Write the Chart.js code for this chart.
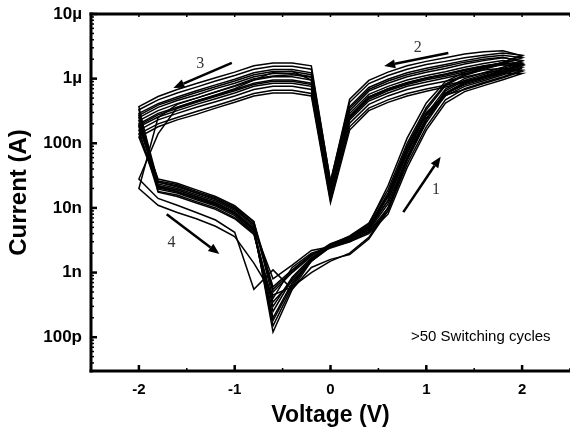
<!DOCTYPE html>
<html>
<head>
<meta charset="utf-8">
<script src="https://cdn.jsdelivr.net/npm/chart.js@4.4.1/dist/chart.umd.min.js"></script>
<style>
  html, body { margin: 0; padding: 0; background: #fff; }
  #wrap { width: 570px; height: 435px; }
</style>
</head>
<body>
<div id="wrap"><canvas id="ivChart"></canvas></div>
<script>
// one sweep: 0 -> 2 -> 0 -> -2 -> 0 V, 0.2 V steps
const voltage = [
    0, 0.2, 0.4, 0.6, 0.8, 1.0, 1.2, 1.4, 1.6, 1.8, 2.0,
    1.8, 1.6, 1.4, 1.2, 1.0, 0.8, 0.6, 0.4, 0.2, 0,
    -0.2, -0.4, -0.6, -0.8, -1.0, -1.2, -1.4, -1.6, -1.8, -2.0,
    -1.8, -1.6, -1.4, -1.2, -1.0, -0.8, -0.6, -0.4, -0.2, 0
];

// current per cycle, in nA (same order as voltage)
const cycle01 = [2.8, 3.6, 5.6, 22, 120, 420, 900, 1250, 1500, 1800, 2300,
    2500, 2300, 2100, 1850, 1650, 1400, 1120, 840, 430, 26,
    1400, 1550, 1550, 1400, 1120, 920, 740, 600, 470, 330,
    25, 21, 17, 13.5, 9.6, 5.5, 0.5, 1.0, 1.8, 2.8];
const cycle02 = [2.6, 3.4, 5.2, 16, 90, 330, 780, 1120, 1380, 1700, 2100,
    2300, 2150, 1900, 1650, 1450, 1230, 980, 730, 370, 23,
    1230, 1380, 1380, 1230, 980, 800, 650, 520, 410, 290,
    22, 19, 15, 12, 8.6, 4.7, 0.3, 0.85, 1.7, 2.6];
const cycle03 = [2.5, 3.2, 4.7, 13, 72, 280, 690, 1000, 1230, 1500, 1900,
    2100, 1900, 1680, 1440, 1260, 1070, 850, 640, 320, 21,
    1070, 1200, 1200, 1070, 850, 700, 560, 460, 360, 250,
    19.5, 17, 13.4, 10.7, 7.6, 4.2, 0.2, 0.7, 1.5, 2.5];
const cycle04 = [2.4, 3.0, 4.3, 10, 55, 210, 560, 880, 1100, 1350, 1700,
    1900, 1720, 1500, 1280, 1120, 950, 760, 570, 290, 20,
    950, 1070, 1070, 950, 760, 620, 500, 410, 320, 225,
    26, 23, 18, 14.4, 10.3, 6.0, 0.6, 1.1, 1.9, 2.4];
const cycle05 = [2.7, 3.4, 5.0, 15, 80, 280, 590, 800, 980, 1200, 1500,
    1650, 1530, 1340, 1150, 1000, 850, 680, 510, 260, 18,
    850, 950, 950, 850, 680, 550, 450, 360, 290, 200,
    21, 18, 14.3, 11.5, 8.2, 4.6, 0.15, 0.6, 1.6, 2.7];
const cycle06 = [2.5, 3.1, 4.2, 9, 48, 180, 470, 700, 870, 1070, 1350,
    1450, 1360, 1190, 1020, 890, 760, 600, 450, 230, 17,
    760, 850, 850, 760, 600, 490, 400, 320, 255, 180,
    28, 24, 19, 15, 10.8, 6.2, 0.4, 1.2, 2.0, 2.5];
const cycle07 = [2.6, 3.5, 5.3, 17, 88, 300, 560, 680, 840, 1030, 1300,
    1350, 1220, 1060, 910, 800, 680, 540, 400, 205, 15,
    680, 760, 760, 680, 540, 440, 360, 290, 230, 160,
    18, 15.8, 12.5, 10, 7.1, 4.1, 0.25, 0.8, 1.6, 2.6];
const cycle08 = [2.5, 3.0, 4.0, 8, 42, 160, 420, 630, 780, 960, 1200,
    1200, 1060, 920, 790, 690, 590, 470, 350, 180, 13,
    590, 660, 660, 590, 470, 380, 310, 250, 200, 140,
    23.5, 20, 16, 12.8, 9.2, 5.2, 0.12, 0.55, 1.5, 2.5];
const cycle09 = [2.5, 3.3, 4.9, 13, 70, 240, 540, 760, 930, 1150, 1450,
    1250, 1050, 880, 740, 640, 540, 430, 320, 160, 12,
    540, 600, 600, 540, 430, 350, 280, 230, 180, 125,
    22, 19, 15, 12, 8.6, 4.9, 0.8, 1.3, 2.2, 2.5];
const cycle10 = [2.7, 3.7, 5.8, 19, 100, 360, 820, 1170, 1450, 1780, 2250,
    2700, 2600, 2400, 2100, 1850, 1580, 1260, 940, 480, 25,
    1580, 1750, 1750, 1580, 1260, 1030, 840, 680, 530, 370,
    17.5, 15, 11.9, 9.5, 6.8, 3.9, 0.35, 0.75, 1.5, 2.7];
const cycle11 = [1.6, 1.9, 3.3, 9, 55, 230, 600, 870, 1080, 1330, 1650,
    1750, 1580, 1380, 1180, 1030, 870, 700, 520, 260, 18,
    950, 1300, 1250, 950, 700, 560, 450, 360, 140, 28,
    14, 11, 8.5, 6.5, 4.2, 0.55, 1.1, 0.55, 1.2, 1.6];
const cycle12 = [1.5, 2.0, 3.5, 10, 60, 240, 600, 870, 1070, 1300, 1650,
    1750, 1560, 1360, 1170, 1020, 860, 690, 520, 260, 16,
    1050, 1150, 1100, 1000, 780, 620, 500, 400, 250, 20,
    11, 8.5, 6.8, 5.2, 3.6, 1.4, 0.45, 0.6, 1.0, 1.5];
const cycle13 = [2.6, 3.2, 4.5, 11.5, 62, 240, 650, 940, 1160, 1420, 1800,
    2150, 2000, 1800, 1550, 1350, 1150, 920, 680, 350, 22,
    1150, 1290, 1290, 1150, 920, 750, 610, 490, 390, 270,
    20.5, 17.7, 14, 11.2, 8.0, 4.5, 0.18, 0.65, 1.6, 2.6];
const cycle14 = [2.6, 3.4, 5.0, 15, 80, 270, 580, 830, 1020, 1250, 1580,
    1640, 1460, 1270, 1090, 960, 810, 650, 480, 245, 16,
    810, 910, 910, 810, 650, 530, 430, 345, 275, 190,
    25, 22, 17, 13.8, 9.9, 5.6, 0.55, 1.05, 1.9, 2.6];

const cycles = [cycle01, cycle02, cycle03, cycle04, cycle05, cycle06, cycle07,
    cycle08, cycle09, cycle10, cycle11, cycle12, cycle13, cycle14];

const xTickValues = [-2, -1, 0, 1, 2];
const yTickValues = [0.1, 1, 10, 100, 1000, 10000];
const yTickLabels = ['100p', '1n', '10n', '100n', '1µ', '10µ'];

// sweep direction arrows [V1, I1, V2, I2] and their numbers
const arrows = [
    [0.76, 8.6, 1.15, 62],
    [1.23, 2490, 0.56, 1570],
    [-1.03, 1750, -1.64, 715],
    [-1.71, 8.0, -1.16, 1.93]
];
const arrowLabels = ['1', '2', '3', '4'];
const arrowLabelPos = [[1.10, 18.9], [0.91, 2980], [-1.36, 1680], [-1.66, 2.85]];
const noteText = '>50 Switching cycles';
const notePos = [0.84, 0.1];

Chart.defaults.color = '#000';
Chart.defaults.font.family = '"Liberation Sans", Arial, sans-serif';

const datasets = cycles.map(c => ({
    data: voltage.map((v, i) => ({ x: v, y: c[i] })),
    borderColor: '#000',
    borderWidth: 1.5,
    pointRadius: 0,
    tension: 0,
    fill: false
}));

const framePlugin = {
    id: 'frame',
    afterDatasetsDraw(chart) {
        const { ctx, chartArea: a, scales: { x, y } } = chart;
        ctx.save();
        ctx.strokeStyle = '#000';
        ctx.fillStyle = '#000';

        const seg = (x1, y1, x2, y2) => {
            ctx.beginPath();
            ctx.moveTo(x1, y1);
            ctx.lineTo(x2, y2);
            ctx.stroke();
        };

        // minor ticks
        ctx.lineWidth = 1.5;
        for (let v = -2.5; v <= 2.5; v += 0.5) {
            const px = x.getPixelForValue(v);
            seg(px, a.bottom, px, a.bottom - 3);
            seg(px, a.top, px, a.top + 3);
        }
        for (let d = 0.01; d < 10000; d *= 10) {
            for (let k = 2; k <= 9; k++) {
                const val = d * k;
                if (val < y.min || val > y.max) continue;
                const py = y.getPixelForValue(val);
                seg(a.left, py, a.left + 3, py);
            }
        }

        // major ticks
        ctx.lineWidth = 2.5;
        xTickValues.forEach(v => {
            const px = x.getPixelForValue(v);
            seg(px, a.bottom, px, a.bottom - 6);
        });
        yTickValues.forEach(v => {
            const py = y.getPixelForValue(v);
            seg(a.left, py, a.left + 6, py);
        });

        // frame
        ctx.lineWidth = 3;
        seg(a.left, a.top - 1.5, a.left, a.bottom + 1.5);
        seg(a.left - 1.5, a.bottom, a.right, a.bottom);
        seg(a.left - 1.5, a.top, a.right, a.top);

        // arrows
        ctx.lineWidth = 2.5;
        arrows.forEach(([v1, i1, v2, i2]) => {
            const x1 = x.getPixelForValue(v1), y1 = y.getPixelForValue(i1);
            const x2 = x.getPixelForValue(v2), y2 = y.getPixelForValue(i2);
            const ang = Math.atan2(y2 - y1, x2 - x1);
            const hl = 11, hw = 4.5;
            const bx = x2 - hl * Math.cos(ang), by = y2 - hl * Math.sin(ang);
            seg(x1, y1, bx, by);
            ctx.beginPath();
            ctx.moveTo(x2, y2);
            ctx.lineTo(bx + hw * Math.sin(ang), by - hw * Math.cos(ang));
            ctx.lineTo(bx - hw * Math.sin(ang), by + hw * Math.cos(ang));
            ctx.closePath();
            ctx.fill();
        });

        ctx.fillStyle = '#333';
        ctx.font = '16px "Liberation Serif", "Times New Roman", serif';
        ctx.textAlign = 'center';
        ctx.textBaseline = 'middle';
        arrowLabels.forEach((t, i) => {
            ctx.fillText(t, x.getPixelForValue(arrowLabelPos[i][0]), y.getPixelForValue(arrowLabelPos[i][1]));
        });

        ctx.fillStyle = '#000';
        ctx.font = '15px "Liberation Sans", Arial, sans-serif';
        ctx.textAlign = 'left';
        ctx.fillText(noteText, x.getPixelForValue(notePos[0]), y.getPixelForValue(notePos[1]));
        ctx.restore();
    }
};

new Chart(document.getElementById('ivChart'), {
    type: 'line',
    data: { datasets },
    options: {
        responsive: true,
        maintainAspectRatio: false,
        animation: false,
        layout: { padding: { top: 14, right: 0, left: 0, bottom: 0 } },
        plugins: {
            legend: { display: false },
            tooltip: { enabled: false }
        },
        scales: {
            x: {
                type: 'linear',
                min: -2.5,
                max: 2.5,
                afterBuildTicks: s => { s.ticks = xTickValues.map(v => ({ value: v })); },
                afterFit: s => { s.height = 64; },
                grid: { display: false },
                border: { display: false },
                ticks: {
                    padding: 2,
                    maxRotation: 0,
                    font: { size: 15, weight: 'bold' }
                },
                title: {
                    display: true,
                    text: 'Voltage (V)',
                    font: { size: 23, weight: 'bold' },
                    padding: { top: 0, bottom: 6 }
                }
            },
            y: {
                type: 'logarithmic',
                min: 0.03,
                max: 10000,
                afterBuildTicks: s => { s.ticks = yTickValues.map(v => ({ value: v })); },
                afterFit: s => { s.width = 91; },
                grid: { display: false },
                border: { display: false },
                ticks: {
                    padding: 1,
                    font: { size: 17, weight: 'bold' },
                    callback: (val) => {
                        const i = yTickValues.findIndex(t => Math.abs(t - val) / t < 1e-6);
                        return i >= 0 ? yTickLabels[i] : '';
                    }
                },
                title: {
                    display: true,
                    text: 'Current (A)',
                    font: { size: 24, weight: 'bold' },
                    padding: { top: 5, bottom: 0 }
                }
            }
        }
    },
    plugins: [framePlugin]
});
</script>
</body>
</html>
